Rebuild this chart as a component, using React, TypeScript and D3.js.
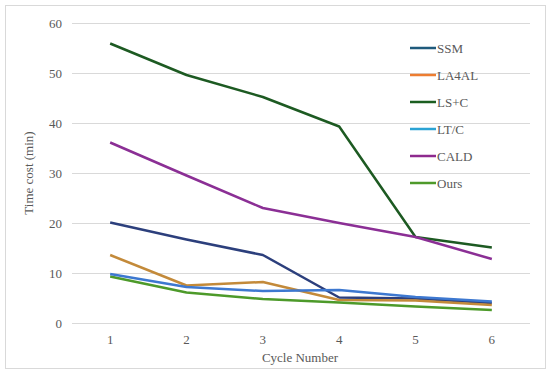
import { useEffect, useRef } from "react"
import * as d3 from "d3"

const cycles = [1, 2, 3, 4, 5, 6]
const seriesNames = ["SSM", "LA4AL", "LS+C", "LT/C", "CALD", "Ours"]
const ssm = [20.1, 16.7, 13.6, 5.1, 4.9, 4.0]
const la4al = [13.6, 7.5, 8.2, 4.6, 4.5, 3.6]
const lsc = [55.9, 49.6, 45.2, 39.3, 17.2, 15.1]
const ltc = [9.8, 7.2, 6.4, 6.6, 5.2, 4.3]
const cald = [36.1, 29.5, 23.0, 20.0, 17.2, 12.8]
const ours = [9.3, 6.1, 4.8, 4.1, 3.3, 2.6]
const yTicks = [0, 10, 20, 30, 40, 50, 60]

const legendColors = ["#1f5a7c", "#ed7d31", "#1b5e20", "#2aa3d4", "#8e2a8e", "#4e9a2a"]
const lineColors = ["#2c3f7c", "#c38a3a", "#1d5a22", "#3d78d0", "#8b2f95", "#4d9a2a"]

export default function App() {
  const svgRef = useRef<SVGSVGElement>(null)

  useEffect(() => {
    if (!svgRef.current) return
    const root = d3.select(svgRef.current)
    root.selectAll("*").remove()

    const W = 550
    const H = 374
    const left = 72
    const right = 530
    const top = 23
    const bottom = 323
    const font = "'Liberation Serif', 'Times New Roman', serif"

    root.attr("width", W).attr("height", H)

    // outer frame
    root
      .append("rect")
      .attr("x", 5.5)
      .attr("y", 5.5)
      .attr("width", 540)
      .attr("height", 363)
      .attr("fill", "#fff")
      .attr("stroke", "#d9d9d9")

    const x = d3.scalePoint<number>().domain(cycles).range([left, right]).padding(0.5)
    const y = d3.scaleLinear().domain([0, 60]).range([bottom, top])

    // grid lines
    root
      .append("g")
      .selectAll("line")
      .data(yTicks)
      .enter()
      .append("line")
      .attr("x1", left)
      .attr("x2", right)
      .attr("y1", (d) => y(d) + 0.5)
      .attr("y2", (d) => y(d) + 0.5)
      .attr("stroke", "#d9d9d9")
      .attr("stroke-width", 1)

    // y tick labels
    root
      .append("g")
      .selectAll("text")
      .data(yTicks)
      .enter()
      .append("text")
      .attr("x", 62)
      .attr("y", (d) => y(d))
      .attr("dy", "0.35em")
      .attr("text-anchor", "end")
      .attr("font-family", font)
      .attr("font-size", 13)
      .attr("fill", "#595959")
      .text((d) => d)

    // x tick labels
    root
      .append("g")
      .selectAll("text")
      .data(cycles)
      .enter()
      .append("text")
      .attr("x", (d) => x(d) || 0)
      .attr("y", 344)
      .attr("text-anchor", "middle")
      .attr("font-family", font)
      .attr("font-size", 13)
      .attr("fill", "#595959")
      .text((d) => d)

    // axis titles
    root
      .append("text")
      .attr("x", 300)
      .attr("y", 362)
      .attr("text-anchor", "middle")
      .attr("font-family", font)
      .attr("font-size", 13)
      .attr("fill", "#595959")
      .text("Cycle Number")

    root
      .append("text")
      .attr("transform", `translate(28,${(top + bottom) / 2}) rotate(-90)`)
      .attr("text-anchor", "middle")
      .attr("dy", "0.35em")
      .attr("font-family", font)
      .attr("font-size", 13)
      .attr("fill", "#595959")
      .text("Time cost (min)")

    // lines
    const allSeries = [ssm, la4al, lsc, ltc, cald, ours]
    const line = d3
      .line<number>()
      .x((_, i) => x(cycles[i]) || 0)
      .y((d) => y(d))

    // draw order so that overlaps look like the original
    const order = [2, 4, 0, 1, 5, 3]
    order.forEach((k) => {
      root
        .append("path")
        .datum(allSeries[k])
        .attr("d", line)
        .attr("fill", "none")
        .attr("stroke", lineColors[k])
        .attr("stroke-width", 2.5)
        .attr("stroke-linejoin", "round")
    })

    // legend
    const legend = root.append("g")
    seriesNames.forEach((name, i) => {
      const ly = 48 + i * 27
      legend
        .append("line")
        .attr("x1", 410)
        .attr("x2", 436)
        .attr("y1", ly)
        .attr("y2", ly)
        .attr("stroke", legendColors[i])
        .attr("stroke-width", 2.5)
      legend
        .append("text")
        .attr("x", 437)
        .attr("y", ly)
        .attr("dy", "0.35em")
        .attr("font-family", font)
        .attr("font-size", 13)
        .attr("fill", "#595959")
        .text(name)
    })
  }, [])

  return (
    <div style={{ position: "absolute", left: 0, top: 0 }}>
      <svg ref={svgRef} style={{ display: "block" }}></svg>
    </div>
  )
}
